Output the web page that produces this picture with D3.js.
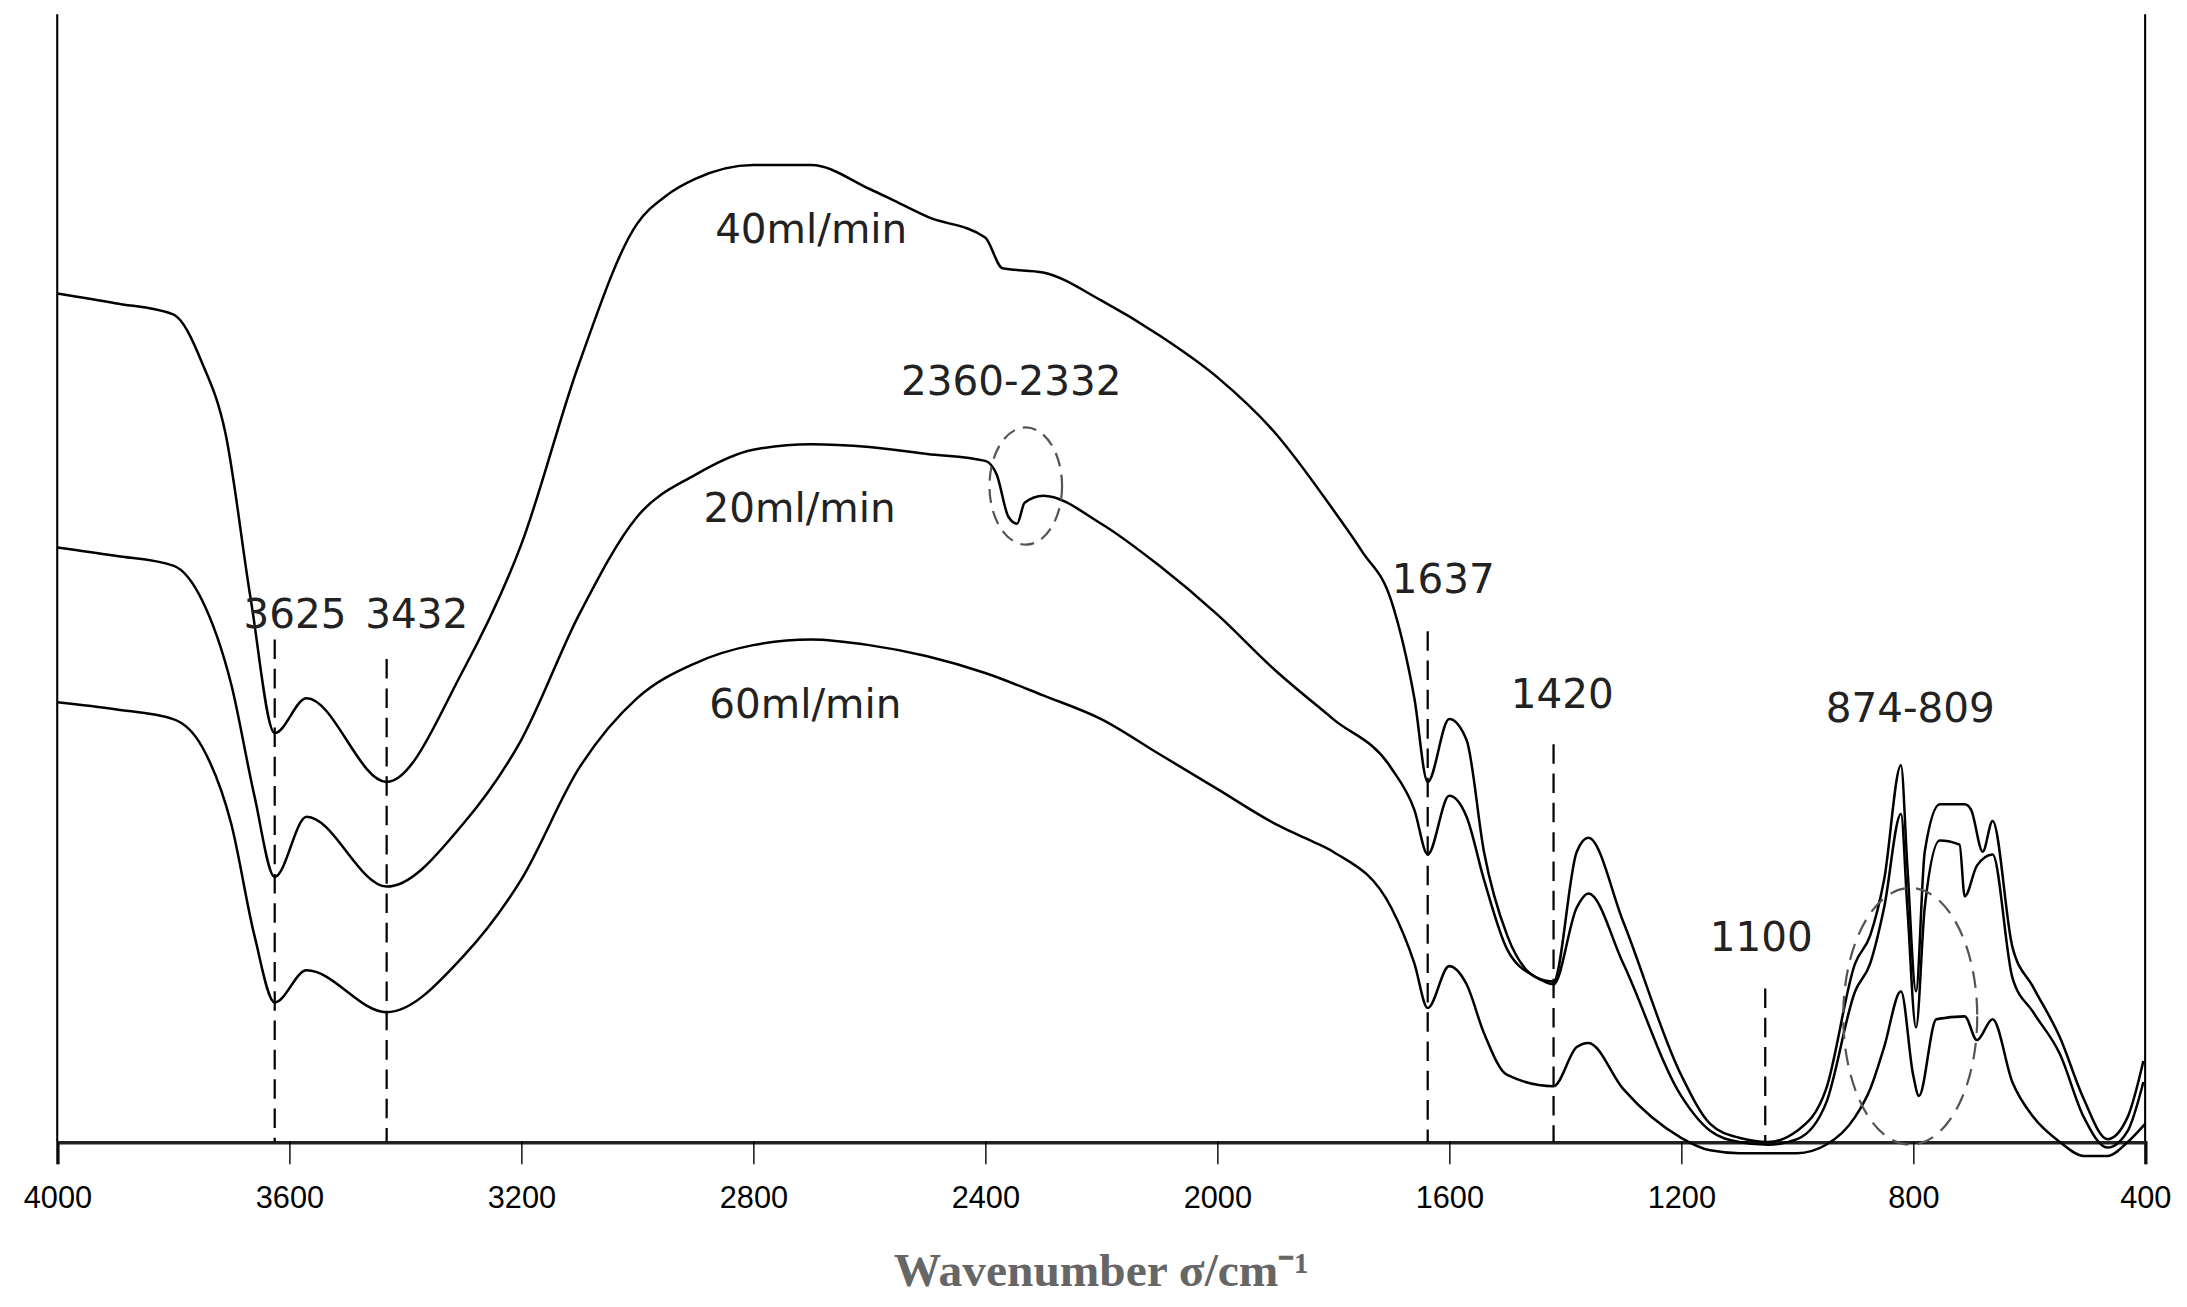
<!DOCTYPE html>
<html><head><meta charset="utf-8">
<script src="https://cdn.jsdelivr.net/npm/d3@7"></script>
<style>body{margin:0;background:#fff}</style></head>
<body><svg id="c" width="2187" height="1307" viewBox="0 0 1567 936"></svg>
<script>
const xTicks=[4000,3600,3200,2800,2400,2000,1600,1200,800,400];
const wn40=[4000,3900,3800,3750,3710,3666,3625,3570,3432,3300,3200,3100,3000,2950,2900,2800,2700,2600,2550,2500,2400,2370,2300,2200,2100,2000,1900,1800,1750,1700,1660,1637,1600,1570,1540,1500,1450,1420,1380,1360,1300,1200,1150,1100,1050,1000,950,900,874,850,821,810,795,780,754,711,700,680,663,629,593,547,506,465,430,403];
const val40=[200,207,215,250,300,420,515,490,550,470,380,250,150,130,118,108,108,125,135,145,160,182,185,205,230,260,300,355,385,420,490,550,505,520,600,660,690,693,600,590,650,760,795,805,808,800,770,680,660,620,538,610,700,600,566,566,570,600,578,668,697,733,777,806,790,750];
const wn20=[4000,3900,3800,3750,3700,3660,3625,3570,3432,3300,3200,3100,3000,2900,2800,2700,2600,2500,2400,2380,2360,2345,2332,2300,2200,2100,2000,1900,1800,1700,1660,1637,1600,1570,1540,1500,1450,1420,1380,1360,1300,1200,1150,1100,1050,1000,950,900,874,850,821,810,795,780,754,720,711,690,663,629,593,547,506,465,430,403];
const val20=[382,388,395,420,480,560,618,575,625,580,520,430,360,330,312,308,310,315,320,330,360,365,350,345,365,395,430,470,505,540,570,602,560,575,620,670,690,695,640,630,680,775,800,808,810,806,780,700,680,640,573,640,726,640,592,595,632,610,602,690,715,745,790,812,800,765];
const wn60=[4000,3900,3800,3750,3700,3660,3625,3570,3432,3300,3200,3100,3000,2900,2800,2700,2600,2500,2400,2300,2200,2100,2000,1900,1850,1800,1700,1660,1637,1600,1570,1540,1500,1420,1380,1360,1300,1200,1150,1100,1000,950,900,874,850,821,800,790,760,711,690,663,629,593,547,506,465,430,400];
const val60=[493,498,505,525,580,660,708,685,715,675,620,540,490,465,452,448,452,460,472,488,505,530,555,580,590,600,640,680,712,682,695,730,760,768,740,737,770,805,814,816,816,810,790,770,740,700,760,775,720,718,735,720,765,790,808,818,818,808,795];
const seriesLabels=["40ml/min","20ml/min","60ml/min"];
const peakLines=[[3625,458],[3432,472],[1637,452],[1420,533],[1055,708]];
const peakLabels=[["3625",3590,450],["3432",3380,450],["1637",1610,425],["1420",1405,507],["1100",1062,681],["874-809",805,517],["2360-2332",2355,283]];

const svg=d3.select("#c");
const x=d3.scaleLinear().domain([4000,400]).range([41,1537]);
const y=d3.scaleLinear().domain([0,808]).range([10,818]);
const font="'DejaVu Sans',sans-serif";
svg.append("line").attr("x1",41).attr("x2",41).attr("y1",10).attr("y2",818).attr("stroke","#000").attr("stroke-width",1.5);
svg.append("line").attr("x1",1537).attr("x2",1537).attr("y1",10).attr("y2",818).attr("stroke","#000").attr("stroke-width",1.5);
const ax=svg.append("g").attr("transform","translate(0,818)").call(d3.axisBottom(x).tickValues(xTicks).tickSize(16).tickFormat(d3.format("d")));
ax.select(".domain").attr("stroke","#222").attr("stroke-width",2.5);
ax.selectAll(".tick line").attr("stroke","#000");
ax.selectAll("text").attr("font-family","'Liberation Sans Narrow','Liberation Sans',sans-serif").attr("font-size",22).attr("fill","#000").attr("dy","1.3em");
svg.append("text").attr("x",789).attr("y",921).attr("text-anchor","middle").attr("font-family","'Liberation Serif',serif").attr("font-weight","bold").attr("font-size",34).attr("fill","#666").text("Wavenumber σ/cm⁻¹");
const line=d3.line().x(d=>x(d[0])).y(d=>y(d[1])).curve(d3.curveMonotoneX);
[[wn40,val40],[wn20,val20],[wn60,val60]].forEach(([w,v])=>{
  svg.append("path").attr("d",line(w.map((d,i)=>[d,v[i]]))).attr("fill","none").attr("stroke","#000").attr("stroke-width",1.8);
});
peakLines.forEach(([w,yt])=>svg.append("line").attr("x1",x(w)).attr("x2",x(w)).attr("y1",yt).attr("y2",818).attr("stroke","#000").attr("stroke-width",1.6).attr("stroke-dasharray","14,7"));
svg.append("ellipse").attr("cx",x(2330)).attr("cy",348).attr("rx",26).attr("ry",42).attr("fill","none").attr("stroke","#555").attr("stroke-width",1.6).attr("stroke-dasharray","10,6");
svg.append("ellipse").attr("cx",x(805)).attr("cy",728).attr("rx",48).attr("ry",92).attr("fill","none").attr("stroke","#555").attr("stroke-width",1.6).attr("stroke-dasharray","12,7");
const lab=[[2700,174],[2720,374],[2710,514]];
seriesLabels.forEach((t,i)=>svg.append("text").attr("x",x(lab[i][0])).attr("y",lab[i][1]).attr("text-anchor","middle").attr("font-family",font).attr("font-size",29).attr("fill","#222").text(t));
peakLabels.forEach(([t,w,yy])=>svg.append("text").attr("x",x(w)).attr("y",yy).attr("text-anchor","middle").attr("font-family",font).attr("font-size",29).attr("fill","#222").text(t));
</script></body></html>
